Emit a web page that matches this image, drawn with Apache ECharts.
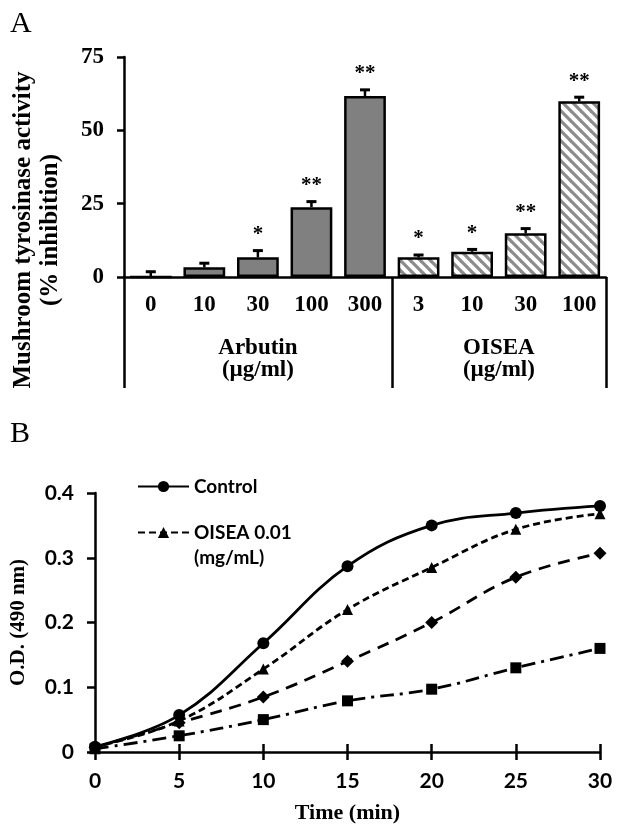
<!DOCTYPE html>
<html><head><meta charset="utf-8">
<script src="https://cdn.jsdelivr.net/npm/echarts@6/dist/echarts.min.js"></script>
<style>html,body{margin:0;padding:0;background:#fff}#c{width:619px;height:834px}</style>
</head><body><div id="c"></div>
<script>
// ---- Panel A data ----
const categories = ['0', '10', '30', '100', '300', '3', '10', '30', '100'];
const groupNames = ['Arbutin\n(µg/ml)', 'OISEA\n(µg/ml)'];
const groupSizes = [5, 4];
const inhibition = [0, 3.3, 6.7, 23.8, 61.7, 6.7, 8.6, 14.9, 59.9];
const inhibitionErr = [1.8, 1.4, 2.3, 1.9, 2.1, 0.8, 0.8, 1.6, 1.4];
const significance = ['', '', '*', '**', '**', '*', '*', '**', '**'];

// ---- Panel B data ----
const timeMin = [0, 5, 10, 15, 20, 25, 30];
const odControl = [0.008, 0.057, 0.168, 0.287, 0.350, 0.369, 0.380];
const odOisea001 = [0.008, 0.048, 0.128, 0.220, 0.285, 0.344, 0.368];
const odSeries3 = [0.007, 0.045, 0.085, 0.140, 0.200, 0.270, 0.307];
const odSeries4 = [0.005, 0.025, 0.050, 0.079, 0.097, 0.130, 0.160];

const SERIF = '"Liberation Serif", "Times New Roman", serif';
const SANS = 'Lato, "Noto Sans", sans-serif';

function hatchCanvas() {
  const s = 10;
  const c = document.createElement('canvas');
  c.width = s; c.height = s;
  const ctx = c.getContext('2d');
  ctx.fillStyle = '#ffffff'; ctx.fillRect(0, 0, s, s);
  ctx.strokeStyle = '#8c8c8c'; ctx.lineWidth = 3.2;
  [-s, 0, s].forEach(function (x0) {
    ctx.beginPath(); ctx.moveTo(x0 - 1, -1); ctx.lineTo(x0 + s + 1, s + 1); ctx.stroke();
  });
  return c;
}
const hatch = { image: hatchCanvas(), repeat: 'repeat' };

// group boundaries & centers
const tickBreaks = [];
const groupCenters = [];
let acc = 0;
groupSizes.forEach(function (n) { tickBreaks.push(acc); groupCenters.push(acc + n / 2); acc += n; });
const totalCats = acc;

const black = '#000';
const axisLine = { show: true, onZero: false, lineStyle: { color: black, width: 2.5 } };

const chart = echarts.init(document.getElementById('c'));
chart.setOption({
  animation: false,
  backgroundColor: '#fff',
  title: [
    { text: 'A', left: 5, top: 4, textStyle: { fontFamily: SERIF, fontWeight: 'normal', fontSize: 30, color: black } },
    { text: 'B', left: 5, top: 414, textStyle: { fontFamily: SERIF, fontWeight: 'normal', fontSize: 30, color: black } }
  ],
  graphic: [
    { type: 'text', x: 37, y: 230, rotation: Math.PI / 2,
      style: { text: 'Mushroom tyrosinase activity\n(% inhibition)', align: 'center', verticalAlign: 'middle',
        font: 'bold 25px ' + SERIF, lineHeight: 27, fill: black } }
  ],
  grid: [
    { left: 124, top: 57, width: 482, height: 220 },
    { left: 95, top: 493, width: 505, height: 259 }
  ],
  legend: [
    { data: [{ name: 'Control' }], left: 137, top: 474, orient: 'vertical', padding: 0,
      itemWidth: 51, itemHeight: 14,
      textStyle: { fontFamily: SANS, fontWeight: 'bold', fontSize: 19, color: black, lineHeight: 25 } },
    { data: [{ name: 'OISEA 0.01\n(mg/mL)' }], left: 137, top: 495, orient: 'vertical', padding: 0,
      itemWidth: 51, itemHeight: 14,
      formatter: function (name) { return ' \n' + name; },
      textStyle: { fontFamily: SANS, fontWeight: 'bold', fontSize: 19, color: black, lineHeight: 25 } }
  ],
  xAxis: [
    { type: 'category', gridIndex: 0, data: categories, position: 'bottom',
      axisLine: { show: true, lineStyle: { color: black, width: 2.5 } },
      axisTick: { show: true, interval: function (idx) { return tickBreaks.indexOf(idx) >= 0; }, length: 111,
        lineStyle: { color: black, width: 2.5 } },
      axisLabel: { interval: 0, margin: 17, color: black, fontFamily: SERIF, fontWeight: 'bold', fontSize: 23 } },
    { type: 'value', gridIndex: 0, min: 0, max: totalCats, interval: 0.5, position: 'bottom',
      axisLine: { show: false }, axisTick: { show: false }, splitLine: { show: false },
      axisLabel: { margin: 60, color: black, fontFamily: SERIF, fontWeight: 'bold', fontSize: 23, lineHeight: 22,
        formatter: function (v) { const k = groupCenters.indexOf(v); return k >= 0 ? groupNames[k] : ''; } } },
    { type: 'value', gridIndex: 1, min: 0, max: 30, interval: 5, position: 'bottom',
      axisLine: axisLine, axisTick: { show: true, length: 8, lineStyle: { color: black, width: 2.5 } },
      splitLine: { show: false },
      axisLabel: { margin: 19, color: black, fontFamily: SANS, fontWeight: 'bold', fontSize: 21 },
      name: 'Time (min)', nameLocation: 'middle', nameGap: 50,
      nameTextStyle: { fontFamily: SERIF, fontWeight: 'bold', fontSize: 22, color: black } },
    { type: 'value', gridIndex: 1, min: 0, max: 30, interval: 5, position: 'bottom',
      axisLine: { show: false }, axisTick: { show: true, inside: true, length: 8, lineStyle: { color: black, width: 2.5 } },
      splitLine: { show: false }, axisLabel: { show: false } }
  ],
  yAxis: [
    { type: 'value', gridIndex: 0, min: 0, max: 75, interval: 25,
      axisLine: axisLine, axisTick: { show: true, length: 7, lineStyle: { color: black, width: 2.5 } },
      splitLine: { show: false },
      axisLabel: { margin: 20, color: black, fontFamily: SERIF, fontWeight: 'bold', fontSize: 23 } },
    { type: 'value', gridIndex: 1, min: 0, max: 0.4, interval: 0.1,
      axisLine: axisLine, axisTick: { show: true, length: 8, lineStyle: { color: black, width: 2.5 } },
      splitLine: { show: false },
      axisLabel: { margin: 21, color: black, fontFamily: SANS, fontWeight: 'bold', fontSize: 21 },
      name: 'O.D. (490 nm)', nameLocation: 'middle', nameGap: 66, nameRotate: 90,
      nameTextStyle: { fontFamily: SERIF, fontWeight: 'bold', fontSize: 21, color: black } },
    { type: 'value', gridIndex: 1, min: 0, max: 0.4, interval: 0.1,
      axisLine: { show: false }, axisTick: { show: true, inside: true, length: 8, lineStyle: { color: black, width: 2.5 } },
      splitLine: { show: false }, axisLabel: { show: false } }
  ],
  series: [
    { type: 'bar', name: 'Inhibition', xAxisIndex: 0, yAxisIndex: 0, barWidth: '78%', z: 2,
      itemStyle: { borderColor: black, borderWidth: 2.5 },
      data: inhibition.map(function (v, i) {
        return { value: v, itemStyle: { color: i < groupSizes[0] ? '#808080' : hatch } };
      }) },
    { type: 'custom', name: 'Error', xAxisIndex: 0, yAxisIndex: 0, z: 5,
      data: inhibition.map(function (v, i) { return [i, v, inhibitionErr[i]]; }),
      renderItem: function (params, api) {
        const i = api.value(0), v = api.value(1), e = api.value(2);
        const b = api.coord([i, v]);
        const t = api.coord([i, v + e]);
        const sig = significance[params.dataIndex];
        return { type: 'group', children: [
          { type: 'line', shape: { x1: b[0], y1: b[1], x2: t[0], y2: t[1] }, style: { stroke: black, lineWidth: 2.5 } },
          { type: 'line', shape: { x1: t[0] - 5, y1: t[1], x2: t[0] + 5, y2: t[1] }, style: { stroke: black, lineWidth: 3 } },
          { type: 'text', x: t[0], y: t[1] - 16,
            style: { text: sig, align: 'center', verticalAlign: 'middle', font: 'bold 21px ' + SERIF, fill: black } }
        ] };
      } },
    { type: 'line', name: 'Control', xAxisIndex: 2, yAxisIndex: 1, smooth: 0.4,
      symbol: 'circle', symbolSize: 12,
      lineStyle: { color: black, width: 2.8, type: 'solid' }, itemStyle: { color: black },
      data: timeMin.map(function (t, i) { return [t, odControl[i]]; }) },
    { type: 'line', name: 'OISEA 0.01\n(mg/mL)', xAxisIndex: 2, yAxisIndex: 1, smooth: 0.4,
      symbol: 'triangle', symbolSize: 11,
      lineStyle: { color: black, width: 2.8, type: [7, 4] }, itemStyle: { color: black },
      data: timeMin.map(function (t, i) { return [t, odOisea001[i]]; }) },
    { type: 'line', name: 'Series 3', xAxisIndex: 2, yAxisIndex: 1, smooth: 0.4,
      symbol: 'diamond', symbolSize: 13,
      lineStyle: { color: black, width: 2.8, type: [12, 8] }, itemStyle: { color: black },
      data: timeMin.map(function (t, i) { return [t, odSeries3[i]]; }) },
    { type: 'line', name: 'Series 4', xAxisIndex: 2, yAxisIndex: 1, smooth: 0.4,
      symbol: 'rect', symbolSize: 11,
      lineStyle: { color: black, width: 2.8, type: [14, 6, 3, 6] }, itemStyle: { color: black },
      data: timeMin.map(function (t, i) { return [t, odSeries4[i]]; }) }
  ]
});
</script></body></html>
